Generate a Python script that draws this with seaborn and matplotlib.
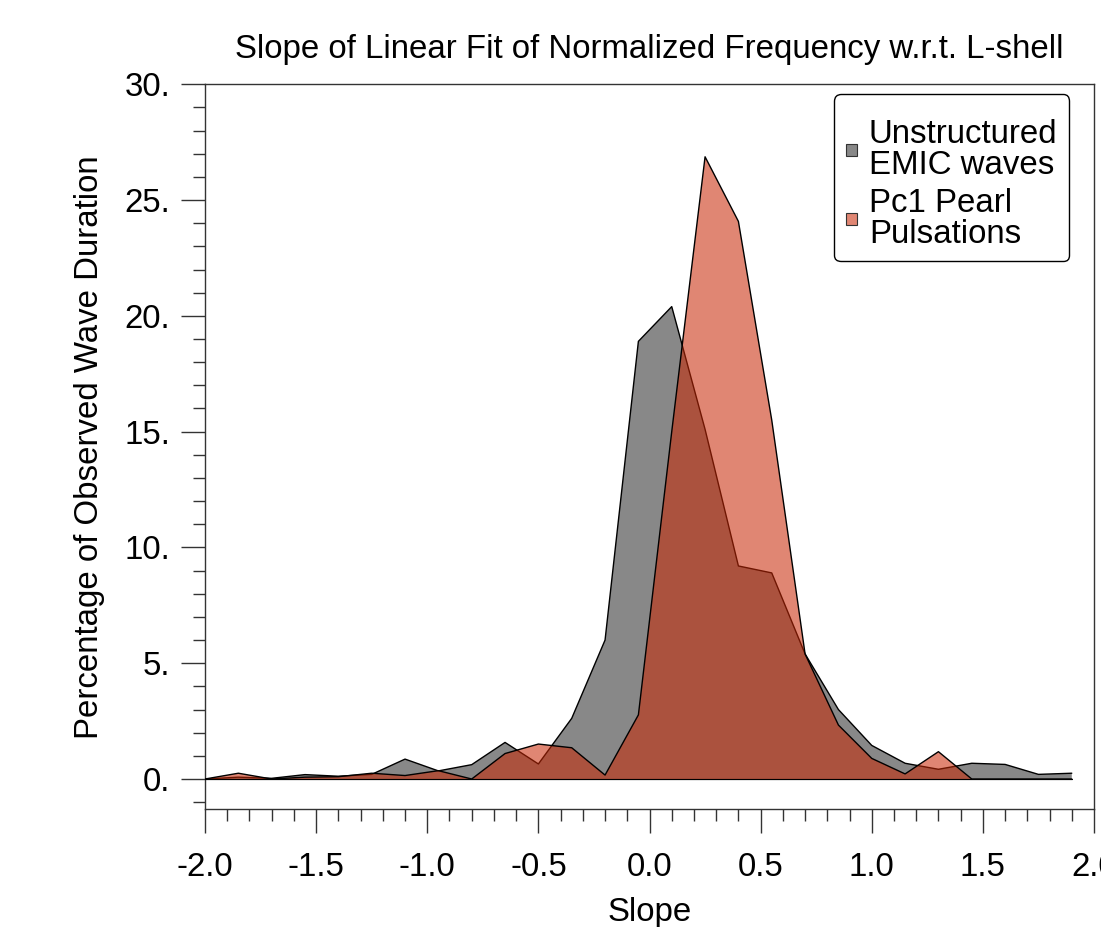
import matplotlib
matplotlib.use("Agg")
import matplotlib.pyplot as plt
import numpy as np
import pandas as pd
import seaborn as sns
from matplotlib.ticker import MultipleLocator, FuncFormatter
from matplotlib.patches import Patch

# ---- data ----
slope = [-2.0, -1.85, -1.7, -1.55, -1.4, -1.25, -1.1, -0.95, -0.8, -0.65, -0.5, -0.35,
         -0.2, -0.05, 0.1, 0.25, 0.4, 0.55, 0.7, 0.85, 1.0, 1.15, 1.3, 1.45, 1.6, 1.75, 1.9]
unstructured = [0.0, 0.08, 0.03, 0.19, 0.12, 0.2, 0.86, 0.35, 0.62, 1.58, 0.65, 2.62,
                6.0, 18.9, 20.4, 15.1, 9.2, 8.9, 5.4, 3.0, 1.45, 0.68, 0.42, 0.68, 0.63, 0.2, 0.25]
pearl = [0.0, 0.25, 0.0, 0.08, 0.1, 0.25, 0.15, 0.36, 0.0, 1.1, 1.51, 1.35,
         0.17, 2.77, 15.0, 26.87, 24.08, 15.5, 5.4, 2.33, 0.89, 0.22, 1.18, 0.0, 0.0, 0.0, 0.0]
series_names = ["Unstructured\nEMIC waves", "Pc1 Pearl\nPulsations"]
title = "Slope of Linear Fit of Normalized Frequency w.r.t. L-shell"
xlabel = "Slope"
ylabel = "Percentage of Observed Wave Duration"

df = pd.DataFrame({
    "slope": slope * 2,
    "pct": unstructured + pearl,
    "series": [series_names[0]] * len(slope) + [series_names[1]] * len(slope),
})

sns.set_theme(style="white")
plt.rcParams["font.family"] = ["Liberation Sans", "DejaVu Sans"]
plt.rcParams["axes.unicode_minus"] = False
plt.rcParams["text.color"] = "black"

FS = 23.8
gray = "#888888"
orange = (200 / 255, 40 / 255, 5 / 255, 0.56)

fig = plt.figure(figsize=(11.01, 9.27), dpi=100)
ax = fig.add_axes([0.1862, 0.12697, 0.80745, 0.78209])

styles = {series_names[0]: dict(color=gray), series_names[1]: dict(color=orange)}
for i, name in enumerate(series_names):
    sub = df[df["series"] == name]
    ax.fill_between(sub["slope"], 0, sub["pct"], facecolor=styles[name]["color"],
                    edgecolor="none", zorder=2 + 2 * i)
    sns.lineplot(data=sub, x="slope", y="pct", color="black", linewidth=1.0,
                 ax=ax, legend=False, zorder=3 + 2 * i, estimator=None, sort=False)
    ax.plot([sub["slope"].min(), sub["slope"].max()], [0, 0], color="black", lw=0.8,
            zorder=3 + 2 * i)

ax.set_xlim(-2.0, 2.0)
ax.set_ylim(-1.308, 30)
ax.xaxis.set_major_locator(MultipleLocator(0.5))
ax.xaxis.set_minor_locator(MultipleLocator(0.1))
ax.yaxis.set_major_locator(MultipleLocator(5))
ax.yaxis.set_minor_locator(MultipleLocator(1))
ax.xaxis.set_major_formatter(FuncFormatter(lambda v, p: f"{v:.1f}"))
ax.yaxis.set_major_formatter(FuncFormatter(lambda v, p: f"{int(round(v))}."))

ax.tick_params(axis="both", which="both", direction="out", bottom=True, left=True,
               top=False, right=False, width=1.0, color="#333333", labelcolor="black")
ax.tick_params(axis="both", which="major", length=17, labelsize=FS)
ax.tick_params(axis="both", which="minor", length=8.6)
ax.tick_params(axis="x", which="major", pad=14)
ax.tick_params(axis="y", which="major", pad=8)

for s in ax.spines.values():
    s.set_visible(True)
    s.set_linewidth(1.0)
    s.set_color("#333333")

ax.set_title(title, fontsize=FS, pad=19, color="black")
ax.set_xlabel(xlabel, fontsize=FS, labelpad=10, color="black")
ax.set_ylabel(ylabel, fontsize=FS, labelpad=14, color="black")

handles = [Patch(facecolor=gray, edgecolor="#333333", linewidth=0.8),
           Patch(facecolor=orange, edgecolor="#333333", linewidth=0.8)]
leg = ax.legend(handles, series_names, loc="upper right",
                bbox_to_anchor=(0.972, 0.9866), borderaxespad=0, fontsize=FS,
                handlelength=0.35, handleheight=0.18, handletextpad=0.35,
                borderpad=0.35, labelspacing=0.2, frameon=True, fancybox=True,
                framealpha=1.0, edgecolor="black", title=" ", title_fontsize=5)
leg.get_frame().set_linewidth(1.0)
for t in leg.get_texts():
    t.set_linespacing(1.0)
    t.set_color("black")

fig.savefig("out.png", dpi=100)
